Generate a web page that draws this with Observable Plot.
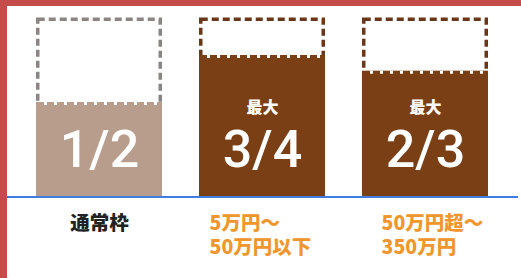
<!DOCTYPE html>
<html>
<head>
<meta charset="utf-8">
<script src="https://cdn.jsdelivr.net/npm/d3@7"></script>
<script src="https://cdn.jsdelivr.net/npm/@observablehq/plot@0.6"></script>
<style>
  html, body { margin: 0; padding: 0; background: #fff; }
  #wrap { position: relative; width: 521px; height: 278px; overflow: hidden; }
  .edge { position: absolute; background: #c64b4b; }
  #top { left: 0; top: 0; width: 521px; height: 6px; }
  #left { left: 0; top: 0; width: 7px; height: 278px; }
  svg { display: block; }
</style>
</head>
<body>
<div id="wrap"></div>
<script>
// ---- data ----
const categories = ["通常枠", "5万円～50万円以下", "50万円超～350万円"];
const shares = [1 / 2, 3 / 4, 2 / 3];
const shareLabels = ["1/2", "3/4", "2/3"];
const prefixes = ["", "最大", "最大"];
const capacity = [0.95, 0.95, 0.95];
const labelLine1 = ["通常枠", "5万円～", "50万円超～"];
const labelLine2 = ["", "50万円以下", "350万円"];

const rows = categories.map((c, i) => ({
  i, cat: c, share: shares[i], cap: capacity[i],
  label: shareLabels[i], prefix: prefixes[i],
  l1: labelLine1[i], l2: labelLine2[i]
}));

const TAN = "#b99d8c", BROWN = "#7a3f14", GRAY = "#8a8482", DBROWN = "#6a3617";
const ORANGE = "#f0962c", INK = "#222222", BLUE = "#3f7ee0";
const fillOf = d => d.i === 0 ? TAN : BROWN;
const outlineOf = d => d.i === 0 ? GRAY : DBROWN;

const jp = "'Noto Sans CJK JP', 'Noto Sans', sans-serif";
const labelStyle = { fontSize: 19.5, fontWeight: 900, fontFamily: jp, lineAnchor: "middle" };

const labelMarks = [];
[["l1", 27], ["l2", 51]].forEach(([key, off]) => {
  labelMarks.push(
    Plot.text(rows.filter(d => d.i === 0 && d[key]), {
      x: "cat", y: 0, text: key, dy: off, fill: INK, ...labelStyle
    }),
    Plot.text(rows.filter(d => d.i === 1 && d[key]), {
      x: "cat", y: 0, text: key, dy: off, dx: -53, textAnchor: "start", fill: ORANGE, ...labelStyle
    }),
    Plot.text(rows.filter(d => d.i === 2 && d[key]), {
      x: "cat", y: 0, text: key, dy: off, dx: -44, textAnchor: "start", fill: ORANGE, ...labelStyle
    })
  );
});

const chart = Plot.plot({
  width: 521,
  height: 278,
  marginLeft: 7,
  marginRight: 3,
  marginTop: 6,
  marginBottom: 0,
  style: { background: "transparent", overflow: "visible" },
  x: { type: "band", domain: categories, range: [35, 489], paddingInner: 0.226, paddingOuter: 0, align: 0.5, axis: null },
  y: { domain: [0, 1], range: [196, 8], axis: null },
  marks: [
    // dashed "full" outline
    Plot.barY(rows, {
      x: "cat", y1: 0, y2: "cap",
      fill: "white", stroke: outlineOf, strokeWidth: 3.5,
      strokeDasharray: "7,4",
      insetLeft: 1.75, insetRight: 1.75, insetTop: 1.75
    }),
    // filled share
    Plot.barY(rows, { x: "cat", y1: 0, y2: "share", fill: fillOf }),
    // notches along the fill edge
    Plot.tickY(rows, {
      x: "cat", y: "share", stroke: "white", strokeWidth: 3,
      strokeDasharray: "3,7", strokeDashoffset: -5, dy: 1, inset: 3
    }),
    // "最大"
    Plot.text(rows, {
      x: "cat", y: 0, text: "prefix", dy: -89,
      fill: "white", fontSize: 16, fontWeight: 900, fontFamily: jp
    }),
    // fraction
    Plot.text(rows, {
      x: "cat", y: 0, text: "label", dy: -46,
      fill: "white", fontSize: 52, fontWeight: 500, fontFamily: "Roboto, sans-serif"
    }),
    // baseline
    Plot.ruleY([0], { stroke: BLUE, strokeWidth: 2, dy: 0.5 }),
    ...labelMarks
  ]
});

const wrap = document.getElementById("wrap");
wrap.appendChild(chart);
const t = document.createElement("div"); t.className = "edge"; t.id = "top"; wrap.appendChild(t);
const l = document.createElement("div"); l.className = "edge"; l.id = "left"; wrap.appendChild(l);
</script>
</body>
</html>
